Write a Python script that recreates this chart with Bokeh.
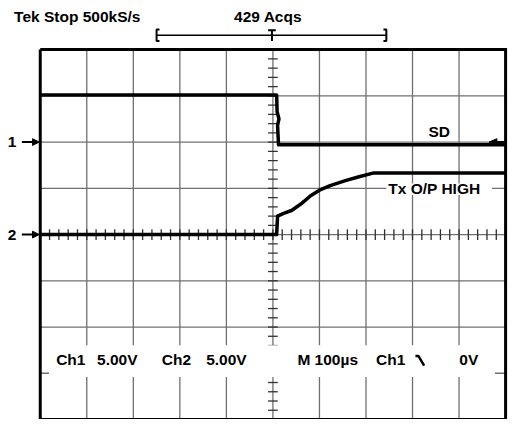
from bokeh.plotting import figure
from bokeh.models import Range1d
from bokeh.embed import file_html
from bokeh.resources import INLINE
from bokeh.core.properties import value

# ---------------- data ----------------
sd_time_us = [-500, 8, 9, 13, 10, 12, 500]
sd_volts = [5.1, 5.1, 3.3, 2.5, 1.8, -0.3, -0.3]
tx_time_us = [-500, 8, 10, 23, 40, 60, 81, 100, 123, 154, 185, 217, 500]
tx_volts = [0, 0, 2.0, 2.3, 2.6, 3.3, 4.2, 4.8, 5.3, 5.8, 6.25, 6.67, 6.67]
ch1_offset_div = 2
ch2_offset_div = 0
volts_per_div = 5.0
time_per_div_us = 100
header_left = "Tek Stop 500kS/s"
header_center = "429 Acqs"
trace_labels = ["SD", "Tx O/P HIGH"]
channel_markers = ["1", "2"]
readout_labels = ["Ch1", "5.00V", "Ch2", "5.00V", "M 100µs", "Ch1", "0V"]

# ---------------- layout ----------------
W, H = 508, 419


def T(px):  # picture x position -> time (µs)
    return (px - 281) / 48 * time_per_div_us


def D(py):  # picture y position -> divisions
    return (243 - py) / 48


p = figure(width=W, height=H, x_range=Range1d(T(0), T(524)),
           y_range=Range1d(D(435), D(0)),
           x_axis_location=None, y_axis_location=None, toolbar_location=None,
           output_backend="svg", min_border=0, outline_line_color=None,
           background_fill_color="white", border_fill_color="white")
p.grid.visible = False

GRID = "#707070"
FONT = value("Liberation Sans")
FS = "15.5px"

# graticule
vx = [[t, t] for t in range(-400, 500, 100)]
vy = [[-4, 4] for _ in vx]
hx = [[-500, 500] for d in range(-3, 4)]
hy = [[d, d] for d in range(-3, 4)]
p.multi_line(vx + hx, vy + hy, line_color=GRID, line_width=1.3)

# center axis ticks
tks_x, tks_y = [], []
for k in range(0, 51):
    t = -500 + 20 * k
    tks_x.append([t, t]); tks_y.append([-0.115, 0.115])
for k in range(0, 41):
    d = -4 + 0.2 * k
    tks_x.append([-10.4, 10.4]); tks_y.append([d, d])
p.multi_line(tks_x, tks_y, line_color="#303030", line_width=1.3)

# white areas for readout and label
p.quad(left=T(50), right=T(510), bottom=D(391), top=D(358),
       fill_color="white", line_color=None)
p.quad(left=T(398), right=T(507), bottom=D(202), top=D(190),
       fill_color="white", line_color=None)

# traces
sd_div = [ch1_offset_div + v / volts_per_div for v in sd_volts]
tx_div = [ch2_offset_div + v / volts_per_div for v in tx_volts]
p.line(sd_time_us, sd_div, line_color="black", line_width=3.5, line_join="round")
p.line(tx_time_us, tx_div, line_color="black", line_width=3.5, line_join="round")

# border
p.line([-500, 500, 500, -500, -500], [4, 4, -4, -4, 4], line_color="black",
       line_width=3, line_join="miter")

# channel ground markers (left)
for lab, off in zip(channel_markers, [ch1_offset_div, ch2_offset_div]):
    py = 243 - off * 48
    p.text([T(12)], [off], text=[lab], text_font=FONT, text_font_style="bold",
           text_font_size=FS, text_align="center", text_baseline="middle")
    p.line([T(22), T(34)], [off, off], line_color="black", line_width=2)
    p.patch([T(33), T(40), T(33)], [D(py - 3.5), off, D(py + 3.5)],
            fill_color="black", line_color="black")

# trigger level marker (right)
p.patch([T(504), T(512), T(512)], [D(147), D(143.5), D(150.5)],
        fill_color="black", line_color="black")
p.line([T(511), T(520)], [D(147), D(147)], line_color="black", line_width=2)

# top bracket
p.line([T(161), T(398)], [D(36), D(36)], line_color="black", line_width=1.5)
p.line([T(164), T(161), T(161), T(164)], [D(30), D(30), D(42), D(42)],
       line_color="black", line_width=2)
p.line([T(395), T(398), T(398), T(395)], [D(30), D(30), D(42), D(42)],
       line_color="black", line_width=2)
p.line([T(280), T(280)], [D(31), D(42)], line_color="black", line_width=2)
p.line([T(276), T(284)], [D(31), D(31)], line_color="black", line_width=2)


def txt(x, y, s, align="center"):
    p.text([x], [y], text=[s], text_font=FONT, text_font_style="bold",
           text_font_size=FS, text_align=align, text_baseline="middle")


txt(T(14), D(17), header_left, "left")
txt(T(276), D(17), header_center)
txt(T(452.5), D(136), trace_labels[0])
txt(T(447.5), D(195), trace_labels[1])

readout_centers = [72.5, 120.5, 181.5, 233, 337.5, 402.5, 483]
for cxp, s in zip(readout_centers, readout_labels):
    txt(T(cxp), D(373), s)

# falling edge symbol
p.line([T(428), T(431), T(437)], [D(369), D(369), D(379)], line_color="black",
       line_width=2.5)

open("out.html", "w").write(file_html(p, INLINE))
